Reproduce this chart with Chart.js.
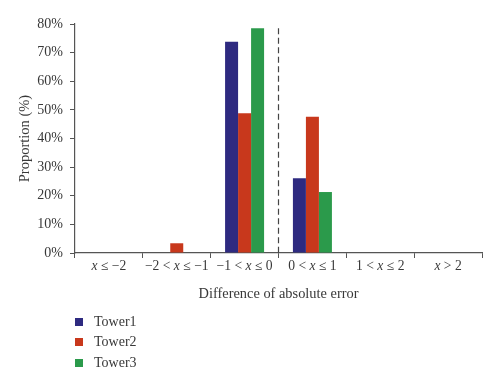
<!DOCTYPE html>
<html><head><meta charset="utf-8">
<script src="https://cdn.jsdelivr.net/npm/chart.js@4"></script>
<style>
html,body{margin:0;padding:0;background:#fff;}
#wrap{position:relative;width:500px;height:383px;}
#legend{position:absolute;left:75px;top:312px;font-family:"Liberation Serif",serif;font-size:14px;color:#383838;}
#legend .it{height:20.3px;display:flex;align-items:center;}
#legend .sw{width:8px;height:8px;margin-right:11px;}
</style></head>
<body><div id="wrap"><canvas id="c" width="500" height="383"></canvas><div id="legend"></div></div>
<script>
const categories = ["x ≤ −2", "−2 < x ≤ −1", "−1 < x ≤ 0", "0 < x ≤ 1", "1 < x ≤ 2", "x > 2"];
const seriesNames = ["Tower1", "Tower2", "Tower3"];
const tower1 = [0, 0, 73.8, 26.1, 0, 0];
const tower2 = [0, 3.4, 48.8, 47.6, 0, 0];
const tower3 = [0, 0, 78.5, 21.3, 0, 0];
const yTicks = [0, 10, 20, 30, 40, 50, 60, 70, 80];
const colors = ["#2e2a80", "#c8381c", "#2b9a4b"];
const dividerAfter = 2; // dashed line between categories index 2 and 3
const dividerTop = 78.5;

const serif = '"Liberation Serif", serif';
const axisColor = '#555';
const textColor = '#383838';

const italicLabels = {
  id: 'italicLabels',
  afterDraw(chart) {
    const x = chart.scales.x, ctx = chart.ctx;
    ctx.save();
    ctx.fillStyle = textColor;
    ctx.textBaseline = 'middle';
    const y = x.top + 13.5;
    categories.forEach((lab, i) => {
      const cx = x.getPixelForValue(i);
      const parts = lab.split(/(x)/);
      const fonts = parts.map(p => p === 'x' ? 'italic 13.6px ' + serif : '13.6px ' + serif);
      let w = 0;
      parts.forEach((p, k) => { ctx.font = fonts[k]; w += ctx.measureText(p).width; });
      let px = cx - w / 2;
      ctx.textAlign = 'left';
      parts.forEach((p, k) => { ctx.font = fonts[k]; ctx.fillText(p, px, y); px += ctx.measureText(p).width; });
    });
    ctx.restore();
  }
};

const divider = {
  id: 'divider',
  afterDatasetsDraw(chart) {
    const x = chart.scales.x, yS = chart.scales.y, ctx = chart.ctx;
    const px = (x.getPixelForValue(dividerAfter) + x.getPixelForValue(dividerAfter + 1)) / 2;
    ctx.save();
    ctx.strokeStyle = '#444';
    ctx.lineWidth = 1.2;
    ctx.setLineDash([6, 3.5]);
    ctx.beginPath();
    ctx.moveTo(px, yS.getPixelForValue(dividerTop));
    ctx.lineTo(px, yS.getPixelForValue(0));
    ctx.stroke();
    ctx.restore();
  }
};

const datasets = [tower1, tower2, tower3].map((d, i) => ({
  label: seriesNames[i], data: d, backgroundColor: colors[i],
  borderWidth: 0, categoryPercentage: 0.575, barPercentage: 1.0
}));

new Chart(document.getElementById('c'), {
  type: 'bar',
  data: { labels: categories, datasets },
  options: {
    responsive: false, animation: false,
    layout: { padding: { top: 24, right: 18, bottom: 80, left: 0 } },
    plugins: { legend: { display: false }, tooltip: { enabled: false } },
    scales: {
      x: {
        grid: { display: true, drawOnChartArea: false, drawTicks: true, tickLength: 5, color: axisColor },
        border: { display: true, color: axisColor, width: 1.2 },
        ticks: { display: false },
        title: { display: true, text: 'Difference of absolute error', font: { family: serif, size: 14.4 }, color: textColor, padding: { top: 0, bottom: 0 } },
        afterFit(s) { s.height = 50; }
      },
      y: {
        min: 0, max: 80,
        afterBuildTicks(s) { s.ticks = yTicks.map(v => ({ value: v })); },
        grid: { display: true, drawOnChartArea: false, drawTicks: true, tickLength: 5, color: axisColor },
        border: { display: true, color: axisColor, width: 1.2 },
        ticks: { callback: v => v + '%', font: { family: serif, size: 14 }, color: textColor, padding: 7 },
        title: { display: true, text: 'Proportion (%)', font: { family: serif, size: 14.5 }, color: textColor, padding: { top: 16, bottom: 0 } },
        afterFit(s) { s.width = 75; }
      }
    }
  },
  plugins: [italicLabels, divider]
});

const lg = document.getElementById('legend');
seriesNames.forEach((n, i) => {
  const d = document.createElement('div'); d.className = 'it';
  d.innerHTML = '<span class="sw" style="background:' + colors[i] + '"></span><span>' + n + '</span>';
  lg.appendChild(d);
});
</script></body></html>
